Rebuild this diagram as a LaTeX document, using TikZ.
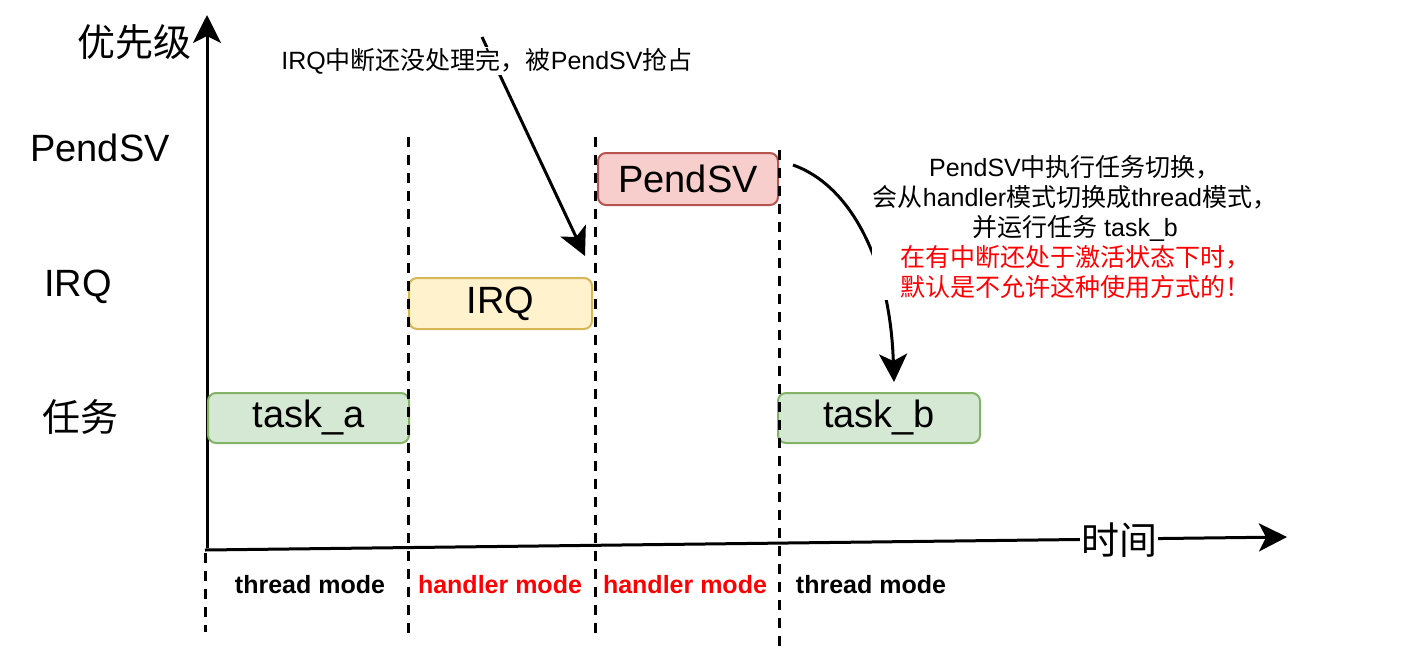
\documentclass[tikz,border=0pt]{standalone}
\usepackage{fontspec}
\setmainfont{Liberation Sans}
\newfontfamily\cjk{Noto Sans CJK SC}
\usetikzlibrary{arrows.meta}
\definecolor{taskfill}{HTML}{D5E8D4}
\definecolor{taskline}{HTML}{82B366}
\definecolor{irqfill}{HTML}{FFF2CC}
\definecolor{irqline}{HTML}{D6B656}
\definecolor{svfill}{HTML}{F8CECC}
\definecolor{svline}{HTML}{B85450}
\tikzset{
  box/.style={draw, rounded corners=8pt, line width=2pt, inner sep=0pt,
    font=\fontsize{38}{45}\selectfont},
  level/.style={font=\fontsize{38}{45}\selectfont},
  note/.style={font=\fontsize{25}{30}\selectfont, fill=white, inner sep=1pt, align=center},
  mode/.style={font=\fontsize{25}{30}\selectfont\bfseries},
  bigtip/.style={-{Stealth[length=28pt,width=28pt,inset=7pt]}},
}
\begin{document}
\begin{tikzpicture}[x=1pt,y=-1pt]
\useasboundingbox (0,0) rectangle (1427,667);
% axes
\coordinate (origin) at (205,550);
\coordinate (timeend) at (1287,537);
\coordinate (prioorigin) at (207,548);
\coordinate (prioend) at (207,15);
\draw[line width=3pt, bigtip] (origin) -- (timeend);
\draw[line width=3pt, bigtip] (prioorigin) -- (prioend);
\node[level, fill=white, inner sep=1pt] (time) at (1119,540) {\cjk 时间};
\node[level] (prio) at (134,42) {\cjk 优先级};
% priority levels
\node[level] (lvsv) at (100,148) {PendSV};
\node[level] (lvirq) at (78,287) {IRQ};
\node[level] (lvtask) at (80,417) {\cjk 任务};
% boxes
\node[box, fill=taskfill, draw=taskline, minimum width=201pt, minimum height=50pt] (taska) at (308.5,418) {task\_a};
\node[box, fill=irqfill, draw=irqline, minimum width=183pt, minimum height=51pt] (irq) at (500.5,303.5) {IRQ};
\node[box, fill=svfill, draw=svline, minimum width=180pt, minimum height=52pt] (pendsv) at (688,179) {PendSV};
\node[box, fill=taskfill, draw=taskline, minimum width=202pt, minimum height=50pt] (taskb) at (879,418) {task\_b};
% mode borders
\foreach \x/\top/\bot in {205/553/632, 408/137/635, 595/137/635, 779/150/648}
  \draw[line width=3pt, dash pattern=on 10pt off 8pt] (\x,\top) -- (\x,\bot);
% modes
\node[mode] (m1) at (310,585) {thread mode};
\node[mode, text=red] (m2) at (500,585) {handler mode};
\node[mode, text=red] (m3) at (685,585) {handler mode};
\node[mode] (m4) at (871,585) {thread mode};
% notes
\coordinate (irqfrom) at (482,37);
\coordinate (irqto) at (585,256);
\draw[line width=3pt, bigtip] (irqfrom) -- (irqto);
\node[note] (irqnote) at (487,61) {IRQ{\cjk 中断还没处理完，被}PendSV{\cjk 抢占}};
\coordinate (swfrom) at (793,165);
\coordinate (swto) at (894,382);
\draw[line width=3pt, bigtip] (swfrom) .. controls (850,185) and (890,260) .. (swto);
\node[note] (swnote) at (1075,227) {PendSV{\cjk 中执行任务切换，}\\
  {\cjk 会从}handler{\cjk 模式切换成}thread{\cjk 模式，}\\
  {\cjk 并运行任务} task\_b\\
  \textcolor{red}{\cjk 在有中断还处于激活状态下时，}\\
  \textcolor{red}{\cjk 默认是不允许这种使用方式的！}};
\end{tikzpicture}
\end{document}
